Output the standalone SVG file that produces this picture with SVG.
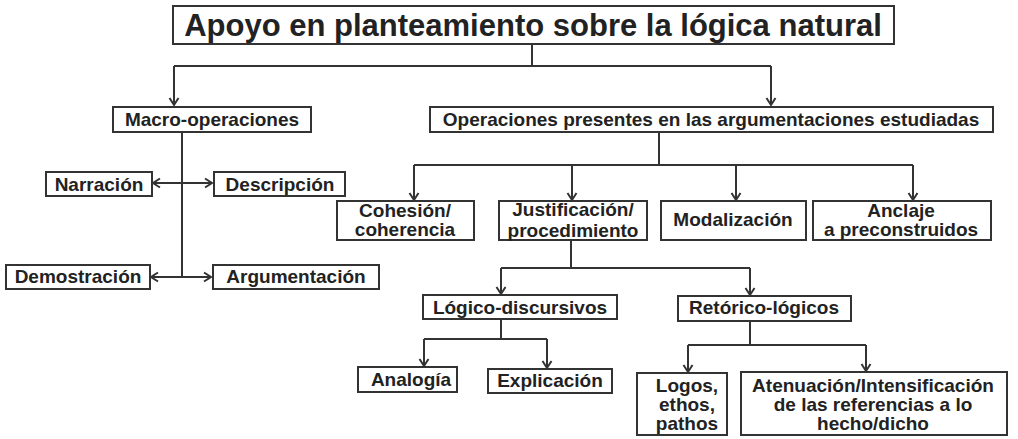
<svg xmlns="http://www.w3.org/2000/svg" width="1018" height="439" viewBox="0 0 1018 439">
<style>
.box{fill:#fff;stroke:#333;stroke-width:2}
.t{font-family:"Liberation Sans",Arial,sans-serif;font-weight:bold;font-size:19px;fill:#222;text-anchor:middle}
.title{font-size:31px}
.c{fill:none;stroke:#333;stroke-width:2}
</style>
<defs>
<marker id="ah" markerUnits="userSpaceOnUse" markerWidth="14" markerHeight="14" viewBox="-9 -7 12 14" refX="0" refY="0" orient="auto-start-reverse">
<path d="M-7,-4.5 L0,0 L-7,4.5" fill="none" stroke="#333" stroke-width="2"/>
</marker>
</defs>
<rect width="1018" height="439" fill="#fff"/>
<g id="connectors">
<path class="c" d="M532,44 V66"/>
<path class="c" d="M174,66 H771"/>
<path class="c" d="M174,66 V105" marker-end="url(#ah)"/>
<path class="c" d="M771,66 V105" marker-end="url(#ah)"/>
<path class="c" d="M182,132 V277"/>
<path class="c" d="M153,183 H212" marker-start="url(#ah)" marker-end="url(#ah)"/>
<path class="c" d="M151,277 H211" marker-start="url(#ah)" marker-end="url(#ah)"/>
<path class="c" d="M659,132 V165"/>
<path class="c" d="M414,165 H913"/>
<path class="c" d="M414,165 V200" marker-end="url(#ah)"/>
<path class="c" d="M572,165 V200" marker-end="url(#ah)"/>
<path class="c" d="M736,165 V200" marker-end="url(#ah)"/>
<path class="c" d="M913,165 V200" marker-end="url(#ah)"/>
<path class="c" d="M571,240 V268"/>
<path class="c" d="M501,268 H750"/>
<path class="c" d="M501,268 V294" marker-end="url(#ah)"/>
<path class="c" d="M750,268 V295" marker-end="url(#ah)"/>
<path class="c" d="M501,319 V339"/>
<path class="c" d="M424,339 H547"/>
<path class="c" d="M424,339 V366" marker-end="url(#ah)"/>
<path class="c" d="M547,339 V368" marker-end="url(#ah)"/>
<path class="c" d="M750,321 V345"/>
<path class="c" d="M688,345 H866"/>
<path class="c" d="M688,345 V372" marker-end="url(#ah)"/>
<path class="c" d="M866,345 V371" marker-end="url(#ah)"/>
</g>
<g id="title">
<rect class="box" x="173" y="6" width="721" height="38"/>
<text class="t title" x="533" y="36">Apoyo en planteamiento sobre la lógica natural</text>
</g>
<g id="macro">
<rect class="box" x="113" y="107" width="198" height="25"/>
<text class="t" x="212" y="126">Macro-operaciones</text>
</g>
<g id="operaciones">
<rect class="box" x="430" y="107" width="563" height="25"/>
<text class="t" x="711" y="126">Operaciones presentes en las argumentaciones estudiadas</text>
</g>
<g id="narracion">
<rect class="box" x="46" y="172" width="106" height="24"/>
<text class="t" x="99" y="191">Narración</text>
</g>
<g id="descripcion">
<rect class="box" x="214" y="172" width="131" height="24"/>
<text class="t" x="280" y="191">Descripción</text>
</g>
<g id="demostracion">
<rect class="box" x="6" y="265" width="144" height="24"/>
<text class="t" x="78" y="283">Demostración</text>
</g>
<g id="argumentacion">
<rect class="box" x="213" y="265" width="166" height="24"/>
<text class="t" x="296" y="283">Argumentación</text>
</g>
<g id="cohesion">
<rect class="box" x="337" y="201" width="137" height="39"/>
<text class="t" x="405" y="217">Cohesión/</text>
<text class="t" x="405" y="236">coherencia</text>
</g>
<g id="justificacion">
<rect class="box" x="499" y="201" width="148" height="39"/>
<text class="t" x="573" y="215.5">Justificación/</text>
<text class="t" x="573" y="236.5">procedimiento</text>
</g>
<g id="modalizacion">
<rect class="box" x="661" y="201" width="145" height="39"/>
<text class="t" x="733" y="226">Modalización</text>
</g>
<g id="anclaje">
<rect class="box" x="813" y="201" width="178" height="39"/>
<text class="t" x="901" y="217">Anclaje</text>
<text class="t" x="901" y="236">a preconstruidos</text>
</g>
<g id="logico">
<rect class="box" x="423" y="295" width="194" height="24"/>
<text class="t" x="520" y="314">Lógico-discursivos</text>
</g>
<g id="retorico">
<rect class="box" x="678" y="296" width="173" height="25"/>
<text class="t" x="764" y="314">Retórico-lógicos</text>
</g>
<g id="analogia">
<rect class="box" x="358" y="367" width="99" height="25"/>
<text class="t" x="411" y="386">Analogía</text>
</g>
<g id="explicacion">
<rect class="box" x="488" y="369" width="124" height="24"/>
<text class="t" x="550" y="387">Explicación</text>
</g>
<g id="logos">
<rect class="box" x="637" y="373" width="90" height="62"/>
<text class="t" x="687" y="392">Logos,</text>
<text class="t" x="687" y="411">ethos,</text>
<text class="t" x="687" y="430">pathos</text>
</g>
<g id="atenuacion">
<rect class="box" x="741" y="372" width="266" height="63"/>
<text class="t" x="873" y="392">Atenuación/Intensificación</text>
<text class="t" x="873" y="411">de las referencias a lo</text>
<text class="t" x="873" y="430">hecho/dicho</text>
</g>
</svg>
